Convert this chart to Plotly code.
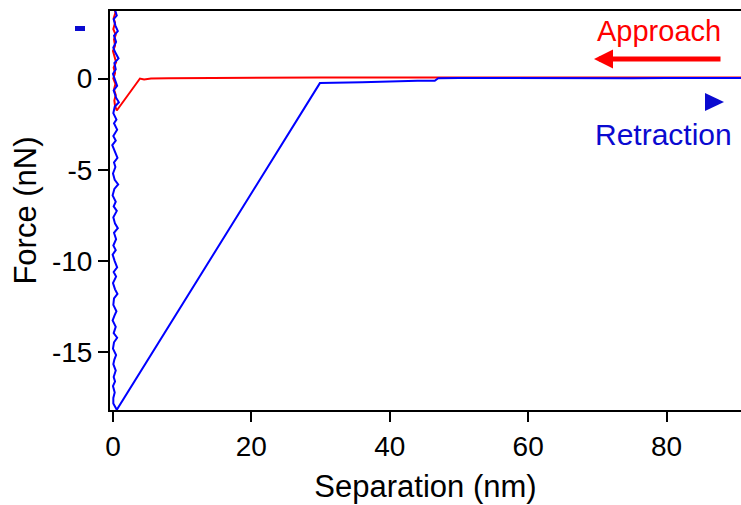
import plotly.graph_objects as go

# ---------------- data ----------------
# Approach curve (red)
approach_x = [0.20, 0.35, 0.10, 0.30, 0.05, 0.40, 0.15, 0.30, 0.00, 0.25, 0.45, 0.10, 0.30,
              0.05, 0.35, 0.15, 0.40, 0.20, 0.30, 0.55, 3.90, 4.50, 5.50, 8.00, 12.0, 20.0,
              30.0, 40.0, 47.0, 60.0, 80.0, 95.0]
approach_y = [3.90, 3.60, 3.30, 3.05, 2.70, 2.40, 2.15, 1.80, 1.50, 1.20, 0.90, 0.60, 0.30,
              0.00, -0.30, -0.60, -0.90, -1.20, -1.50, -1.75, 0.00, -0.05, 0.00, 0.02, 0.03, 0.04,
              0.05, 0.05, 0.06, 0.06, 0.06, 0.06]

# Retraction curve (blue)
retraction_x = [0.25, 0.55, 0.10, 0.35, 0.70, 0.15, 0.45, 0.05, 0.30, 0.80, 0.20, 0.40,
                0.00, 0.35, 0.60, 0.10, 0.45, 0.85, 0.25, 0.05, 0.50, 0.15, 0.60, 0.05,
                0.40, -0.10, 0.30, 0.65, 0.15, 0.35, 0.00, 0.25, 0.75, 0.20, -0.05, 0.40,
                0.10, 0.55, 0.05, 0.30, 0.70, 0.15, 0.45, 0.05, 0.40, -0.05, 0.25, 0.60,
                0.10, 0.45, 0.00, 0.30, 0.65, 0.15, 0.05, 0.50, 0.20, -0.05, 0.40, 0.10,
                0.60, 0.15, 0.00, 0.45, 0.20, 0.05, 0.40, 0.10, 0.30, 0.00, 0.25, 0.05,
                0.05, 0.30, 0.55, 29.9, 30.5, 32.0, 34.0, 36.0, 38.0, 39.5, 40.0, 42.0,
                44.0, 46.5, 47.0, 50.0, 55.0, 60.0, 65.0, 70.0, 75.0, 80.0, 85.0, 90.0, 95.0]
retraction_y = [3.80, 3.45, 3.25, 2.90, 2.60, 2.35, 2.00, 1.70, 1.45, 1.10, 0.85, 0.50,
                0.25, -0.15, -0.40, -0.65, -1.05, -1.30, -1.55, -1.90, -2.25, -2.45, -2.80, -3.15,
                -3.40, -3.65, -4.00, -4.35, -4.60, -4.85, -5.20, -5.55, -5.80, -6.05, -6.40, -6.75,
                -7.00, -7.25, -7.60, -7.95, -8.20, -8.45, -8.80, -9.15, -9.40, -9.65, -10.0, -10.35,
                -10.6, -10.85, -11.2, -11.55, -11.8, -12.05, -12.4, -12.75, -13.0, -13.25, -13.6, -13.95,
                -14.2, -14.45, -14.8, -15.15, -15.4, -15.65, -16.0, -16.35, -16.6, -16.85, -17.2, -17.5,
                -17.8, -18.0, -18.15, -0.25, -0.24, -0.23, -0.22, -0.20, -0.18, -0.17, -0.13, -0.13,
                -0.12, -0.12, 0.02, 0.03, 0.02, 0.03, 0.02, 0.03, 0.02, 0.03, 0.02, 0.03, 0.02]

x_ticks = [0, 20, 40, 60, 80]
x_tick_labels = ["0", "20", "40", "60", "80"]
y_ticks = [0, -5, -10, -15]
y_tick_labels = ["0", "-5", "-10", "-15"]

RED = "#ff0000"
BLUE = "#0000ff"
BLUE_TEXT = "#0a0ad0"
FONT = "Arial, Liberation Sans, sans-serif"

fig = go.Figure()
fig.add_trace(go.Scatter(x=approach_x, y=approach_y, mode="lines",
                         line=dict(color=RED, width=2), name="Approach", showlegend=False))
fig.add_trace(go.Scatter(x=retraction_x, y=retraction_y, mode="lines",
                         line=dict(color=BLUE, width=2), name="Retraction", showlegend=False))

axis_common = dict(showgrid=False, zeroline=False, showline=True, linecolor="black",
                   linewidth=2, ticks="outside", ticklen=10, tickwidth=2, tickcolor="black",
                   tickfont=dict(family=FONT, size=28, color="black"))

fig.update_layout(
    width=741, height=505,
    margin=dict(l=110, r=0, t=11, b=95),
    paper_bgcolor="white", plot_bgcolor="white",
    font=dict(family=FONT, color="black"),
    xaxis=dict(range=[-0.43, 90.75], tickvals=x_ticks, ticktext=x_tick_labels, mirror=True,
               title=dict(text="Separation (nm)", font=dict(family=FONT, size=31), standoff=15),
               **axis_common),
    yaxis=dict(range=[-18.16, 3.70], tickvals=y_ticks, ticktext=y_tick_labels, mirror=False,
               title=dict(text="Force (nN)", font=dict(family=FONT, size=31), standoff=6),
               **axis_common),
)

# Approach label and arrow
fig.add_annotation(xref="paper", yref="paper", x=(659 - 110) / 631, y=(410 - 31) / 399,
                   text="Approach", showarrow=False, font=dict(family=FONT, size=29, color=RED),
                   xanchor="center", yanchor="middle")
fig.add_annotation(xref="paper", yref="paper", x=(594 - 110) / 631, y=(410 - 59) / 399,
                   ax=128, ay=0, text="", showarrow=True, arrowhead=2, arrowsize=0.76,
                   arrowwidth=5, arrowcolor=RED, standoff=0)

# Retraction label and triangle
fig.add_annotation(xref="paper", yref="paper", x=(663 - 110) / 631, y=(410 - 134) / 399,
                   text="Retraction", showarrow=False,
                   font=dict(family=FONT, size=30, color=BLUE_TEXT),
                   xanchor="center", yanchor="middle")
tx0, tx1 = (705 - 110) / 631, (724 - 110) / 631
ty0, ty1, tym = (410 - 93) / 399, (410 - 111) / 399, (410 - 102) / 399
fig.add_shape(type="path", xref="paper", yref="paper",
              path=f"M {tx0},{ty0} L {tx1},{tym} L {tx0},{ty1} Z",
              fillcolor=BLUE_TEXT, line=dict(color=BLUE_TEXT, width=0))

# small blue dash at top-left
fig.add_shape(type="rect", xref="paper", yref="paper",
              x0=(75 - 110) / 631, x1=(85 - 110) / 631,
              y0=(410 - 31) / 399, y1=(410 - 26) / 399,
              fillcolor=BLUE_TEXT, line=dict(width=0))

fig.write_html("out.html")
